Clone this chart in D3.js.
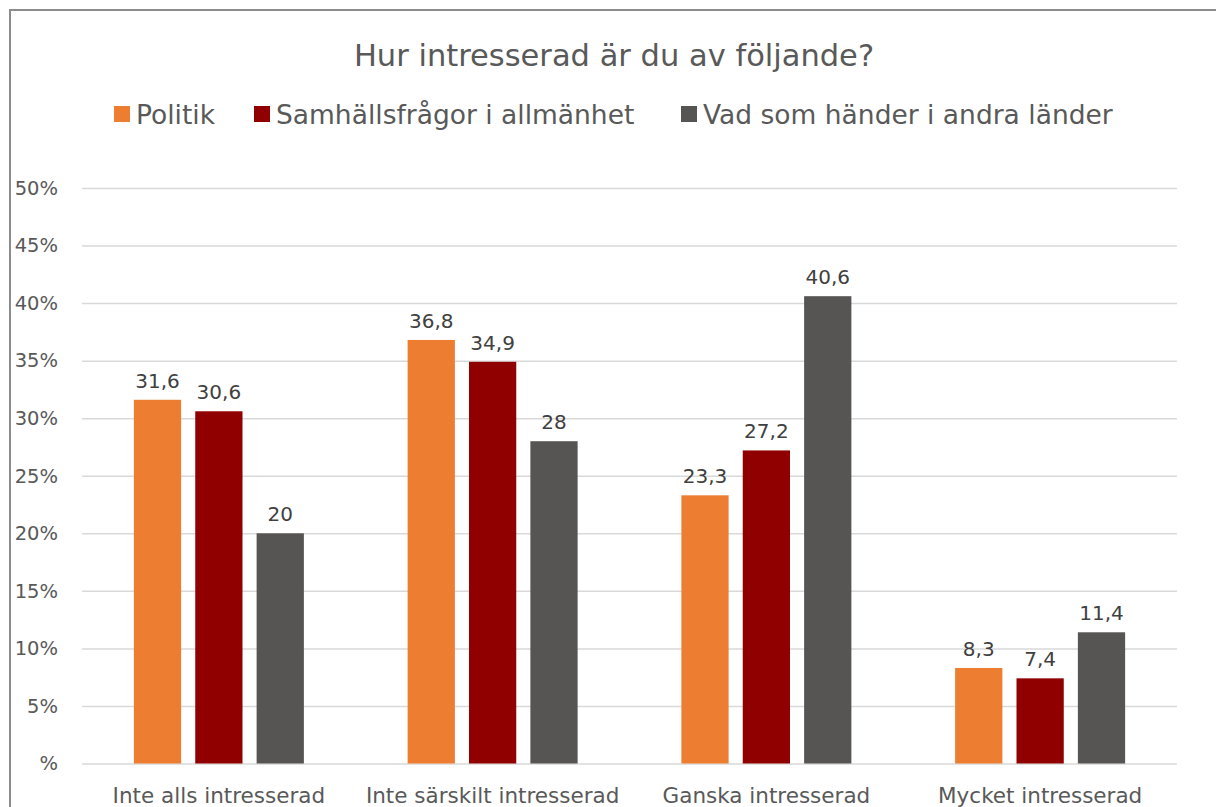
<!DOCTYPE html>
<html>
<head>
<meta charset="utf-8">
<script src="https://cdn.jsdelivr.net/npm/d3@7"></script>
<style>
  body { margin: 0; background: #fff; }
  svg { display: block; font-family: "DejaVu Sans", sans-serif; }
</style>
</head>
<body>
<svg id="chart"></svg>
<script>
// Data
const categories = ["Inte alls intresserad", "Inte särskilt intresserad", "Ganska intresserad", "Mycket intresserad"];
const seriesNames = ["Politik", "Samhällsfrågor i allmänhet", "Vad som händer i andra länder"];
const politik = [31.6, 36.8, 23.3, 8.3];
const samhalle = [30.6, 34.9, 27.2, 7.4];
const andraLander = [20, 28, 40.6, 11.4];
const yTicks = [0, 5, 10, 15, 20, 25, 30, 35, 40, 45, 50];
const colors = ["#ED7D31", "#900000", "#575553"];

const seriesValues = [politik, samhalle, andraLander];

const width = 1216;
const height = 807;
const marginLeft = 82;
const marginRight = 39;
const plotTop = 188;
const plotBottom = 763.5;

const svg = d3.select("#chart")
  .attr("width", width)
  .attr("height", height)
  .attr("viewBox", [0, 0, width, height]);

// chart frame (runs off the right and bottom edge)
svg.append("rect")
  .attr("x", 10).attr("y", 10)
  .attr("width", 1400).attr("height", 1000)
  .attr("fill", "#fff")
  .attr("stroke", "#8C8C8C")
  .attr("stroke-width", 2);

const x0 = d3.scaleBand()
  .domain(categories)
  .range([marginLeft, width - marginRight])
  .paddingInner(0.379)
  .paddingOuter(0.379 / 2);

const x1 = d3.scaleBand()
  .domain(seriesNames)
  .range([0, x0.bandwidth()])
  .paddingInner(0.23)
  .paddingOuter(0);

const y = d3.scaleLinear()
  .domain([0, 50])
  .range([plotBottom, plotTop]);

// y axis with gridlines
svg.append("g")
  .attr("transform", `translate(${marginLeft},0)`)
  .call(d3.axisLeft(y).tickValues(yTicks).tickSize(0).tickPadding(24)
    .tickFormat(d => d === 0 ? "%" : d + "%"))
  .attr("font-family", null)
  .attr("font-size", 19.5)
  .call(g => g.select(".domain").remove())
  .call(g => g.selectAll(".tick text").attr("fill", "#595959"))
  .call(g => g.selectAll(".tick line").clone()
    .attr("x2", width - marginLeft - marginRight)
    .attr("stroke", "#D9D9D9")
    .attr("stroke-width", 1.5));

// x axis labels
svg.append("g")
  .attr("transform", `translate(0,${plotBottom})`)
  .call(d3.axisBottom(x0).tickSize(0).tickPadding(24))
  .attr("font-family", null)
  .attr("font-size", 21.5)
  .call(g => g.select(".domain").remove())
  .call(g => g.selectAll(".tick text").attr("fill", "#595959"));

// bars
const groups = svg.append("g")
  .selectAll("g")
  .data(categories)
  .join("g")
  .attr("transform", d => `translate(${x0(d)},0)`);

groups.selectAll("rect")
  .data((c, i) => seriesNames.map((s, j) => ({ s, j, v: seriesValues[j][i] })))
  .join("rect")
  .attr("x", d => x1(d.s))
  .attr("y", d => y(d.v))
  .attr("width", x1.bandwidth())
  .attr("height", d => y(0) - y(d.v))
  .attr("fill", d => colors[d.j]);

groups.selectAll("text")
  .data((c, i) => seriesNames.map((s, j) => ({ s, j, v: seriesValues[j][i] })))
  .join("text")
  .attr("x", d => x1(d.s) + x1.bandwidth() / 2)
  .attr("y", d => y(d.v) - 12)
  .attr("text-anchor", "middle")
  .attr("fill", "#404040")
  .attr("font-size", 20)
  .text(d => String(d.v).replace(".", ","));

// title
svg.append("text")
  .attr("x", 614)
  .attr("y", 66)
  .attr("text-anchor", "middle")
  .attr("fill", "#595959")
  .attr("font-size", 30.5)
  .text("Hur intresserad är du av följande?");

// legend
const legendX = [114, 254, 681];
const legend = svg.append("g")
  .selectAll("g")
  .data(seriesNames)
  .join("g")
  .attr("transform", (d, i) => `translate(${legendX[i]},106)`);

legend.append("rect")
  .attr("width", 16).attr("height", 16)
  .attr("fill", (d, i) => colors[i]);

legend.append("text")
  .attr("x", 22)
  .attr("y", 18)
  .attr("fill", "#595959")
  .attr("font-size", 26.5)
  .text(d => d);
</script>
</body>
</html>
